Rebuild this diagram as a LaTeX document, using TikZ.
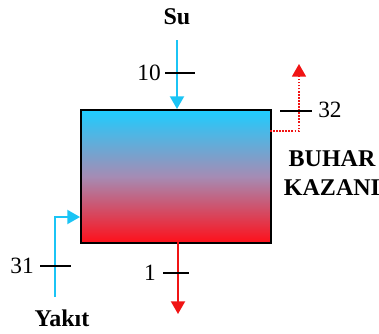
\documentclass[tikz,border=0pt]{standalone}
\usepackage{fontspec}
\setmainfont{Liberation Serif}
\usetikzlibrary{arrows.meta}
\definecolor{cyanA}{RGB}{27,196,245}
\definecolor{boxtop}{RGB}{30,205,255}
\definecolor{boxmid}{RGB}{165,140,180}
\definecolor{boxbot}{RGB}{255,15,25}
\definecolor{redA}{RGB}{240,20,20}
\tikzset{
  flowcyan/.style={draw=cyanA, line width=1.5pt, -{Triangle[width=10.5pt,length=9.5pt]}},
  flowred/.style={draw=redA, line width=1.5pt, -{Triangle[width=10.5pt,length=9.5pt]}},
  flowdot/.style={draw=redA, line width=1.3pt, densely dotted, -{Triangle[width=10.5pt,length=9.5pt]}},
  tick/.style={draw=black, line width=1.1pt},
  num/.style={font=\fontsize{17.5}{19}\selectfont, inner sep=0pt},
  lbl/.style={font=\fontsize{18}{21.5}\selectfont\bfseries, inner sep=0pt, align=center},
}
\begin{document}
\begin{tikzpicture}[x=0.75pt,y=-0.75pt]
\useasboundingbox (0,0) rectangle (379,333);
% boiler
\node (box) [draw=black, line width=1.5pt, minimum width=142.5pt, minimum height=99.75pt,
  inner sep=0pt, top color=boxtop, bottom color=boxbot, middle color=boxmid, anchor=north west] at (80,109) {};
% water in
\node (su) [lbl] at (177,17) {Su};
\coordinate (suS) at (177,40);
\coordinate (suE) at (177,109);
\draw[flowcyan] (suS) -- (suE);
\coordinate (t10a) at (165,73); \coordinate (t10b) at (195,73);
\draw[tick] (t10a) -- (t10b);
\node (n10) [num, anchor=east] at (161,73) {10};
% outlet 1
\coordinate (o1S) at (178,242);
\coordinate (o1E) at (178,314);
\draw[flowred] (o1S) -- (o1E);
\coordinate (t1a) at (163,273); \coordinate (t1b) at (189,273);
\draw[tick] (t1a) -- (t1b);
\node (n1) [num, anchor=east] at (156,273) {1};
% outlet 32
\coordinate (o32S) at (270,131);
\coordinate (o32M) at (299,131);
\coordinate (o32E) at (299,64);
\draw[flowdot] (o32S) -- (o32M) -- (o32E);
\coordinate (t32a) at (280,111); \coordinate (t32b) at (312,111);
\draw[tick] (t32a) -- (t32b);
\node (n32) [num, anchor=west] at (318,110) {32};
% label
\node (bk) [lbl] at (332,173) {BUHAR\\KAZANI};
% fuel
\coordinate (yS) at (55,297);
\coordinate (yM) at (55,217);
\coordinate (yE) at (80,217);
\draw[flowcyan] (yS) -- (yM) -- (yE);
\coordinate (t31a) at (40,266); \coordinate (t31b) at (71,266);
\draw[tick] (t31a) -- (t31b);
\node (n31) [num, anchor=east] at (34,266) {31};
\node (yk) [lbl] at (62,318) {Yakıt};
\end{tikzpicture}
\end{document}
